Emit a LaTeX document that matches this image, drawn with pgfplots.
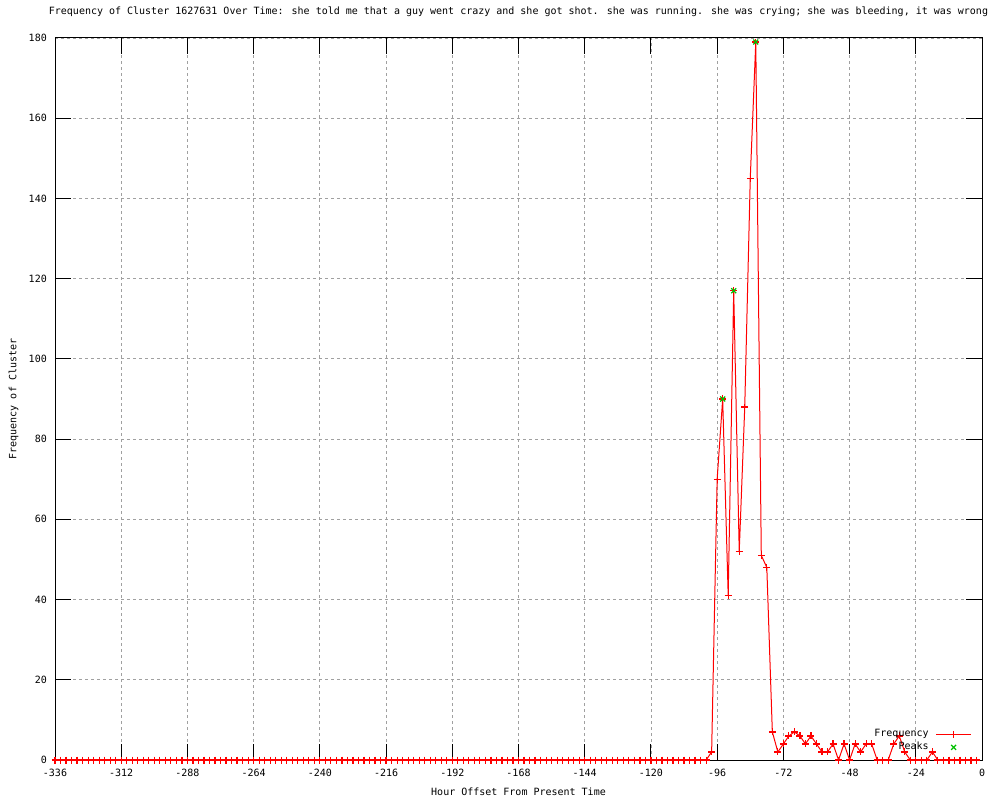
\documentclass[border=0pt]{standalone}
\usepackage{fontspec}
\setmainfont{DejaVu Sans Mono}
\setmonofont{DejaVu Sans Mono}
\usepackage{pgfplots}
\pgfplotsset{compat=1.18}
\usepackage{pgfplotstable}
\definecolor{gpred}{RGB}{255,0,0}
\definecolor{gpgreen}{RGB}{0,192,0}
\definecolor{gpgrid}{RGB}{160,160,160}

\pgfplotstableread{
x y
-336 0
-334 0
-332 0
-330 0
-328 0
-326 0
-324 0
-322 0
-320 0
-318 0
-316 0
-314 0
-312 0
-310 0
-308 0
-306 0
-304 0
-302 0
-300 0
-298 0
-296 0
-294 0
-292 0
-290 0
-288 0
-286 0
-284 0
-282 0
-280 0
-278 0
-276 0
-274 0
-272 0
-270 0
-268 0
-266 0
-264 0
-262 0
-260 0
-258 0
-256 0
-254 0
-252 0
-250 0
-248 0
-246 0
-244 0
-242 0
-240 0
-238 0
-236 0
-234 0
-232 0
-230 0
-228 0
-226 0
-224 0
-222 0
-220 0
-218 0
-216 0
-214 0
-212 0
-210 0
-208 0
-206 0
-204 0
-202 0
-200 0
-198 0
-196 0
-194 0
-192 0
-190 0
-188 0
-186 0
-184 0
-182 0
-180 0
-178 0
-176 0
-174 0
-172 0
-170 0
-168 0
-166 0
-164 0
-162 0
-160 0
-158 0
-156 0
-154 0
-152 0
-150 0
-148 0
-146 0
-144 0
-142 0
-140 0
-138 0
-136 0
-134 0
-132 0
-130 0
-128 0
-126 0
-124 0
-122 0
-120 0
-118 0
-116 0
-114 0
-112 0
-110 0
-108 0
-106 0
-104 0
-102 0
-100 0
-98 2
-96 70
-94 90
-92 41
-90 117
-88 52
-86 88
-84 145
-82 179
-80 51
-78 48
-76 7
-74 2
-72 4
-70 6
-68 7
-66 6
-64 4
-62 6
-60 4
-58 2
-56 2
-54 4
-52 0
-50 4
-48 0
-46 4
-44 2
-42 4
-40 4
-38 0
-36 0
-34 0
-32 4
-30 6
-28 2
-26 0
-24 0
-22 0
-20 0
-18 2
-16 0
-14 0
-12 0
-10 0
-8 0
-6 0
-4 0
-2 0
}\freq

\pgfplotstableread{
x y
-94 90
-90 117
-82 179
}\peaks

\begin{document}
\begin{tikzpicture}
\path[use as bounding box] (0,0) rectangle (1000pt,800pt);
\begin{axis}[
  at={(55pt,40pt)}, anchor=south west,
  scale only axis, width=927pt, height=722pt,
  xmin=-336, xmax=0, ymin=0, ymax=180,
  clip=false,
  xtick={-336,-312,...,0},
  xticklabels={-336,-312,-288,-264,-240,-216,-192,-168,-144,-120,-96,-72,-48,-24,0},
  ytick={0,20,...,180},
  yticklabels={0,20,40,60,80,100,120,140,160,180},
  tick align=inside,
  major tick length=16pt,
  every tick/.style={black, line width=1pt},
  axis line style={black, line width=1pt},
  grid=major,
  major grid style={gpgrid, line width=0.8pt, dash pattern=on 3pt off 3pt},
  xticklabel style={anchor=base, inner sep=0pt, yshift=-16.5pt},
  yticklabel style={anchor=east, inner sep=0pt, xshift=-8pt},
  title={Frequency of Cluster 1627631 Over Time: she told me that a guy went crazy and she got shot. she was running. she was crying; she was bleeding, it was wrong},
  title style={at={(0.5,1)}, anchor=base, yshift=17.5pt, inner sep=0pt},
  xlabel={Hour Offset From Present Time},
  xlabel style={at={(0.5,0)}, anchor=base, yshift=-35.5pt, inner sep=0pt},
  ylabel={Frequency of Cluster},
  every axis y label/.style={at={(0,0.5)}, xshift=-38.5pt, rotate=90, anchor=base, inner sep=0pt},
  legend image code/.code={\draw[mark repeat=2, mark phase=2, #1] plot coordinates {(0pt,0pt) (17.5pt,0pt) (35pt,0pt)};},
  legend plot pos=right,
  legend cell align=right,
  legend style={at={(0.989,0.011)}, anchor=south east, draw=none, fill=none,
    inner sep=0pt, row sep=4pt, column sep=7pt,
    nodes={inner sep=0pt, text height=7pt, text depth=2pt}},
]
\addplot[color=gpred, line width=1pt, mark=+, mark size=3.5pt, mark options={solid, color=gpred, line width=1.2pt}] table[x=x, y=y] {\freq};
\addlegendentry{Frequency}
\addplot[only marks, color=gpgreen, mark=x, mark size=3.5pt, mark options={color=gpgreen, line width=1.2pt}] table[x=x, y=y] {\peaks};
\addlegendentry{Peaks}
\end{axis}
\end{tikzpicture}
\end{document}
